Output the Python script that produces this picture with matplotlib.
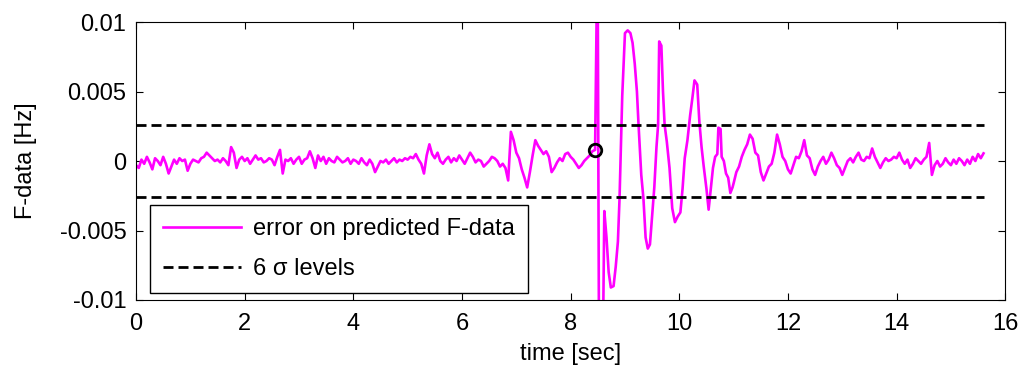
import numpy as np
import matplotlib
matplotlib.use("Agg")
import matplotlib.pyplot as plt

plt.rcParams["font.family"] = ["Liberation Sans", "DejaVu Sans"]

# quiet part before the event, sampled every 0.05 s (units of 1e-3 Hz)
dt = 0.05
pre_vals = [
    -0.3, -0.5, 0.1, -0.2, 0.3, -0.1, -0.6, 0.2, 0.0, -0.3, 0.3, -0.2, -0.9, -0.4, 0.1, -0.2, 0.2, 0.0, 0.1, -0.7,
    -0.2, 0.1, 0.0, -0.1, 0.2, 0.3, 0.6, 0.4, 0.2, 0.0, 0.1, -0.1, 0.2, 0.0, -0.3, 1.0, 0.6, -0.5, 0.1, 0.3,
    0.0, 0.2, -0.2, 0.1, 0.4, 0.1, 0.2, -0.1, 0.0, 0.2, 0.1, -0.3, 0.3, 0.8, -0.9, 0.1, 0.0, 0.2, -0.2, 0.1,
    0.3, -0.2, 0.1, 0.2, 0.7, 0.2, -0.5, 0.4, 0.0, 0.3, -0.2, 0.2, 0.0, -0.1, 0.3, 0.1, -0.1, 0.0, 0.2, -0.2,
    0.1, 0.0, -0.2, 0.2, -0.1, -0.3, 0.1, -0.2, -0.8, -0.4, 0.0, -0.1, 0.1, -0.2, 0.0, 0.2, -0.1, 0.1, 0.0, 0.2,
    0.1, 0.3, 0.2, 0.5, 0.1, -0.2, -0.9, 0.4, 1.2, 0.5, 0.2, 0.6, 0.0, -0.2, 0.1, 0.3, -0.1, 0.2, 0.0, 0.4,
    0.1, -0.2, 0.2, 0.6, 0.3, -0.1, 0.1, 0.0, -0.4, -0.2, 0.0, 0.3, 0.2, 0.0, -0.4, -0.2, -0.5, -1.4, 2.1, 1.5,
    0.6, 0.2, -0.6, -1.2, -1.9, -0.8, 0.4, 1.5, 1.1, 0.8, 0.5, 0.7, 0.3, -0.8, -0.5, -0.1, 0.2, 0.0, 0.5, 0.6,
    0.3, 0.1, -0.2, -0.5, -0.3, 0.0, 0.2, 0.4, 0.7,
]

# the event itself, irregular time points
event_t = [8.45, 8.48, 8.50, 8.52, 8.60, 8.62, 8.66, 8.70, 8.74, 8.79, 8.83, 8.87, 8.90, 8.95,
           9.00, 9.05, 9.10, 9.14, 9.18, 9.22, 9.25, 9.30, 9.34, 9.38, 9.42, 9.46, 9.50, 9.54,
           9.58, 9.61, 9.63, 9.67, 9.70, 9.73, 9.77, 9.82, 9.87, 9.92, 9.97, 10.02, 10.06, 10.10,
           10.15, 10.20, 10.24, 10.28, 10.33, 10.37, 10.41, 10.45, 10.50, 10.54, 10.58, 10.62,
           10.66, 10.70, 10.72, 10.76, 10.78, 10.82, 10.86, 10.90, 10.94, 10.98]
event_v = [0.8, 11.0, 11.0, -11.0, -11.0, -3.6, -5.5, -8.0, -9.1, -9.0, -7.6, -5.8, -2.7, 4.7,
           9.2, 9.4, 9.2, 8.5, 7.0, 5.0, 2.6, -1.0, -2.7, -5.5, -6.3, -6.0, -4.0, -1.9,
           1.0, 2.6, 8.6, 8.3, 5.0, 2.6, 1.4, -0.5, -3.4, -4.4, -4.0, -3.7, -2.0, 0.2,
           1.5, 3.3, 4.5, 5.8, 5.5, 2.8, 1.0, -0.4, -2.0, -3.5, -2.0, -0.5,
           0.3, 0.5, 2.4, 2.3, 0.3, 0.0, -0.9, -1.2, -2.3, -1.9]

# decaying tail, every 0.05 s from 11.0 s
post_start = 11.0
post_vals = [
    -1.6, -0.8, -0.4, 0.3, 0.8, 1.2, 1.9, 1.6, 0.6, 0.4, -0.8, -1.4, -0.9, -0.4, -0.2, 0.6, 1.9, 1.2, 0.3, 0.0,
    -0.6, -0.9, -0.3, 0.3, 0.2, 0.7, 1.5, 0.4, 0.2, -0.6, -1.0, -0.4, 0.0, 0.3, -0.2, 0.1, 0.6, 0.2, -0.3, -0.5,
    -1.0, -0.5, 0.0, 0.2, -0.1, 0.3, 0.6, 0.1, 0.0, 0.3, 0.2, 0.9, 0.3, -0.1, -0.5, -0.1, 0.2, 0.0, 0.1, 0.3,
    0.2, 0.6, 0.1, -0.2, 0.1, -0.5, -0.2, 0.2, 0.0, -0.2, 0.1, 0.3, 1.3, -1.0, -0.3, 0.0, -0.4, -0.2, 0.2, -0.1,
    -0.3, 0.1, -0.2, 0.2, 0.0, -0.3, 0.1, -0.2, 0.3, 0.0, 0.5, 0.2, 0.55,
]

sigma6 = 0.0026          # 6 sigma threshold
detect_t, detect_v = 8.45, 0.0008

xticks = [0, 2, 4, 6, 8, 10, 12, 14, 16]
yticks = [-0.01, -0.005, 0, 0.005, 0.01]
ytick_labels = ["-0.01", "-0.005", "0", "0.005", "0.01"]

t = np.concatenate([np.arange(len(pre_vals)) * dt,
                    event_t,
                    post_start + np.arange(len(post_vals)) * dt])
err = np.concatenate([pre_vals, event_v, post_vals]) * 1e-3

fig = plt.figure(figsize=(10.19, 3.75), dpi=100)
ax = fig.add_axes([0.1335, 0.2, 0.853, 0.7413])

ax.plot(t, err, color="#ff00ff", lw=1.9, label="error on predicted F-data")
ax.plot([0, t[-1]], [sigma6, sigma6], color="k", lw=2, dashes=(3.6, 1.8),
        label="6 \u03c3 levels")
ax.plot([0, t[-1]], [-sigma6, -sigma6], color="k", lw=2, dashes=(3.6, 1.8))
ax.plot(detect_t, detect_v, "o", ms=9, mfc="none", mec="k", mew=2)

ax.set_xlim(0, 16)
ax.set_ylim(-0.01, 0.01)
ax.set_xticks(xticks)
ax.set_yticks(yticks)
ax.set_yticklabels(ytick_labels)
ax.tick_params(direction="in", top=True, right=True, length=5, labelsize=17)
ax.tick_params(axis="x", pad=9)
ax.tick_params(axis="y", pad=7)
for s in ax.spines.values():
    s.set_linewidth(0.8)

ax.set_xlabel("time [sec]", fontsize=17, labelpad=6)
ax.set_ylabel("F-data [Hz]", fontsize=17, labelpad=16)

leg = ax.legend(loc="lower left", bbox_to_anchor=(0.016, 0.025), borderaxespad=0,
                fontsize=17, fancybox=False, edgecolor="k", framealpha=1,
                handlelength=3.3, handletextpad=0.5, borderpad=0.55, labelspacing=0.75)
leg.get_frame().set_linewidth(1.0)

fig.savefig("out.png", dpi=100)
